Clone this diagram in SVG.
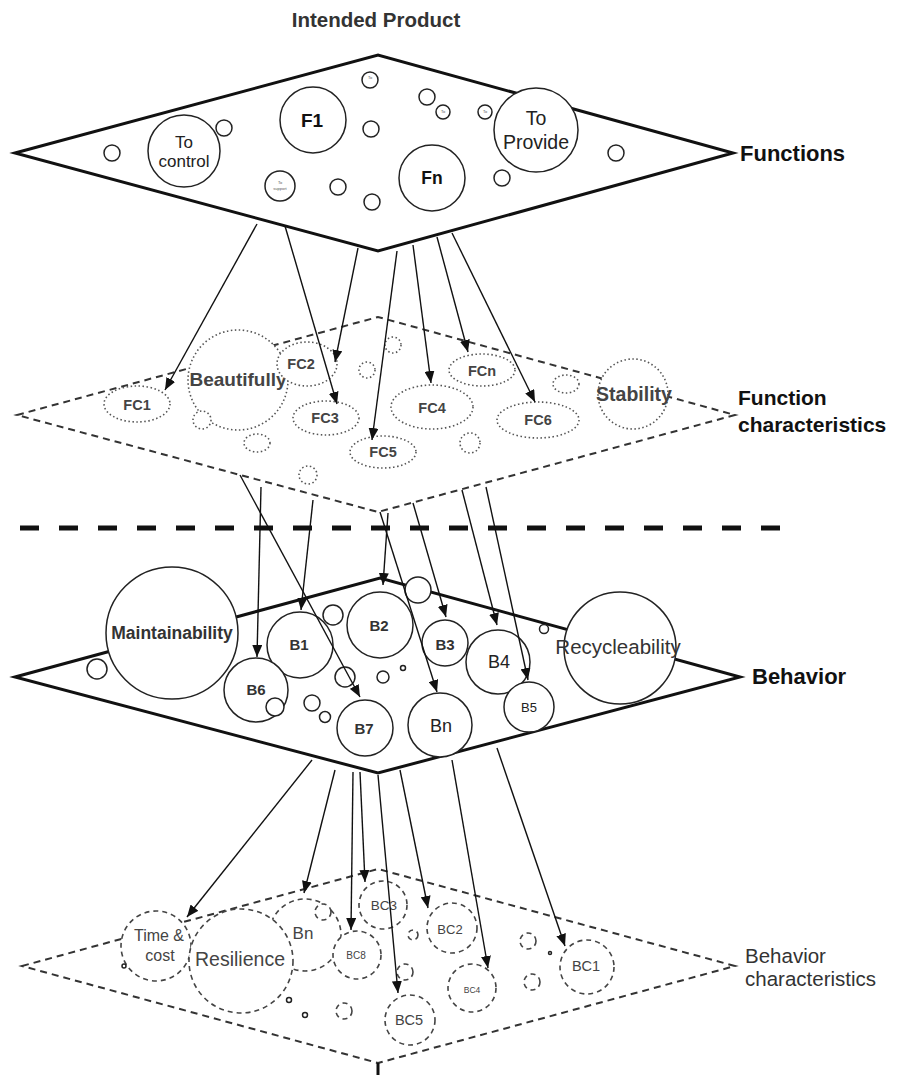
<svg xmlns="http://www.w3.org/2000/svg" width="902" height="1075" viewBox="0 0 902 1075">
<defs>
<marker id="arr" viewBox="0 0 12 10" refX="12" refY="5" markerWidth="12" markerHeight="10" markerUnits="userSpaceOnUse" orient="auto">
<path d="M0,0 L12,5 L0,10 z" fill="#111"/>
</marker>
<style>
text{font-family:"Liberation Sans",Arial,Helvetica,sans-serif;text-anchor:middle;}
.plane{fill:#fff;stroke:#111;stroke-width:3;stroke-linejoin:miter;}
.dplane{fill:#fff;stroke:#333;stroke-width:2;stroke-dasharray:7 5;}
.c{fill:#fff;stroke:#222;stroke-width:1.5;}
.dot{fill:#fff;stroke:#555;stroke-width:1.6;stroke-dasharray:1.5 2.5;}
.dc{fill:#fff;stroke:#444;stroke-width:1.6;stroke-dasharray:5 4;}
.lbl{font-weight:bold;fill:#111;}
.cn line{stroke:#111;stroke-width:1.4;marker-end:url(#arr);}
.tiny{font-size:4px;fill:#555;}
.fc{font-size:14.5px;font-weight:bold;fill:#444;}
.bb{font-size:15px;font-weight:bold;fill:#333;}
.bc{fill:#444;}
</style>
</defs>
<rect width="902" height="1075" fill="#fff"/>

<!-- planes -->
<g id="plane-functions"><polygon class="plane" points="15,153 378,55 733,153 378,251"/></g>
<g id="plane-function-characteristics"><polygon class="dplane" points="17,415 378,317 735,415 378,512"/></g>
<line x1="20" y1="528" x2="785" y2="528" stroke="#111" stroke-width="5" stroke-dasharray="19 20"/>
<g id="plane-behavior"><polygon class="plane" points="15,677 380,578 740,677 378,773"/></g>
<g id="plane-behavior-characteristics"><polygon class="dplane" points="22,966 378,869 735,966 378,1063"/></g>
<line x1="378" y1="1063" x2="378" y2="1075" stroke="#111" stroke-width="3"/>

<!-- Functions nodes -->
<g id="n-small-f1"><circle class="c" cx="112" cy="153" r="8"/></g>
<g id="n-small-f2"><circle class="c" cx="224" cy="128" r="8"/></g>
<g id="n-to-control"><circle class="c" cx="184" cy="151" r="36"/><text x="184" y="148" font-size="17" fill="#222">To</text><text x="184" y="167" font-size="17" fill="#222">control</text></g>
<g id="n-f1"><circle class="c" cx="313" cy="120" r="33"/><text x="312" y="127" font-size="19" class="lbl" fill="#222">F1</text></g>
<g id="n-tiny-1"><circle class="c" cx="370" cy="80" r="8"/><text class="tiny" x="370" y="79">To</text></g>
<g id="n-small-f3"><circle class="c" cx="371" cy="129" r="8"/></g>
<g id="n-to-support"><circle class="c" cx="280" cy="186" r="15"/><text class="tiny" x="280" y="184">To</text><text class="tiny" x="280" y="190">support</text></g>
<g id="n-small-f4"><circle class="c" cx="338" cy="187" r="8"/></g>
<g id="n-small-f5"><circle class="c" cx="372" cy="202" r="8"/></g>
<g id="n-fn"><circle class="c" cx="432" cy="178" r="33"/><text x="432" y="184" font-size="17.5" class="lbl" fill="#222">Fn</text></g>
<g id="n-small-f6"><circle class="c" cx="427" cy="97" r="8"/></g>
<g id="n-tiny-2"><circle class="c" cx="443" cy="112" r="7"/><text class="tiny" x="443" y="113">To</text></g>
<g id="n-tiny-3"><circle class="c" cx="485" cy="112" r="7"/><text class="tiny" x="485" y="113">To</text></g>
<g id="n-to-provide"><circle class="c" cx="536" cy="130" r="42"/><text x="536" y="125" font-size="19.5" fill="#222">To</text><text x="536" y="149" font-size="19.5" fill="#222">Provide</text></g>
<g id="n-small-f7"><circle class="c" cx="616" cy="153" r="8"/></g>
<g id="n-small-f8"><circle class="c" cx="502" cy="178" r="8"/></g>

<!-- Function characteristics nodes -->
<g id="n-beautifully"><circle class="dot" cx="238" cy="380" r="50"/><text x="238" y="386" font-size="19" font-weight="bold" fill="#444">Beautifully</text></g>
<g id="n-fc1"><ellipse class="dot" cx="137" cy="404" rx="33" ry="18"/><text class="fc" x="137" y="410">FC1</text></g>
<g id="n-fc-s1"><circle class="dot" cx="202" cy="420" r="9"/></g>
<g id="n-fc-s2"><ellipse class="dot" cx="257" cy="443" rx="13" ry="9"/></g>
<g id="n-fc2"><ellipse class="dot" cx="307" cy="364" rx="30" ry="22"/><text class="fc" x="301" y="369" font-size="14">FC2</text></g>
<g id="n-fc-s3"><circle class="dot" cx="393" cy="345" r="8"/></g>
<g id="n-fc-s4"><circle class="dot" cx="367" cy="370" r="8"/></g>
<g id="n-fc3"><ellipse class="dot" cx="326" cy="418" rx="33" ry="17"/><text class="fc" x="325" y="423">FC3</text></g>
<g id="n-fc5"><ellipse class="dot" cx="383" cy="452" rx="33" ry="16"/><text class="fc" x="383" y="457">FC5</text></g>
<g id="n-fc-s5"><circle class="dot" cx="308" cy="475" r="9"/></g>
<g id="n-fc4"><ellipse class="dot" cx="432" cy="407" rx="41" ry="22"/><text class="fc" x="432" y="413">FC4</text></g>
<g id="n-fc-s6"><circle class="dot" cx="470" cy="443" r="10"/></g>
<g id="n-fcn"><ellipse class="dot" cx="482" cy="370" rx="33" ry="16"/><text class="fc" x="482" y="376">FCn</text></g>
<g id="n-fc6"><ellipse class="dot" cx="538" cy="420" rx="41" ry="18"/><text class="fc" x="538" y="425">FC6</text></g>
<g id="n-fc-s7"><ellipse class="dot" cx="566" cy="384" rx="13" ry="9"/></g>
<g id="n-stability"><circle class="dot" cx="633" cy="394" r="35"/><text x="634" y="401" font-size="19.5" font-weight="bold" fill="#444">Stability</text></g>

<!-- Behavior nodes -->
<g id="n-b-s1"><circle class="c" cx="97" cy="669" r="10"/></g>
<g id="n-maintainability"><circle class="c" cx="172" cy="633" r="66"/><text x="172" y="639" font-size="17.5" font-weight="bold" fill="#333">Maintainability</text></g>
<g id="n-b1"><circle class="c" cx="300" cy="645" r="33"/><text class="bb" x="299" y="650">B1</text></g>
<g id="n-b6"><circle class="c" cx="256" cy="690" r="32"/><text class="bb" x="256" y="695">B6</text></g>
<g id="n-b-s2"><circle class="c" cx="275" cy="707" r="9"/></g>
<g id="n-b-s3"><circle class="c" cx="333" cy="615" r="10"/></g>
<g id="n-b-s4"><circle class="c" cx="345" cy="677" r="10"/></g>
<g id="n-b2"><circle class="c" cx="380" cy="625" r="33"/><text class="bb" x="379" y="631">B2</text></g>
<g id="n-b-s5"><circle class="c" cx="418" cy="590" r="13"/></g>
<g id="n-b-s6"><circle class="c" cx="383" cy="677" r="6"/></g>
<g id="n-b-s7"><circle class="c" cx="403" cy="668" r="2.5"/></g>
<g id="n-b-s8"><circle class="c" cx="312" cy="703" r="8"/></g>
<g id="n-b-s9"><circle class="c" cx="325" cy="717" r="5.5"/></g>
<g id="n-b7"><circle class="c" cx="365" cy="728" r="28"/><text class="bb" x="364" y="734">B7</text></g>
<g id="n-bn"><circle class="c" cx="440" cy="725" r="32"/><text x="441" y="732" font-size="18" fill="#222">Bn</text></g>
<g id="n-b3"><circle class="c" cx="445" cy="643" r="23"/><text class="bb" x="445" y="650">B3</text></g>
<g id="n-b4"><circle class="c" cx="498" cy="662" r="32"/><text x="499" y="668" font-size="18" fill="#222">B4</text></g>
<g id="n-b5"><circle class="c" cx="529" cy="707" r="25"/><text x="529" y="712" font-size="13" fill="#222">B5</text></g>
<g id="n-b-s10"><circle class="c" cx="544" cy="629" r="4.5"/></g>
<g id="n-recycleability"><circle class="c" cx="620" cy="648" r="56"/><text x="618" y="654" font-size="20.5" fill="#333">Recycleability</text></g>

<!-- Behavior characteristics nodes -->
<g id="n-time-cost"><circle class="dc" cx="156" cy="946" r="35"/><text class="bc" x="159" y="941" font-size="16">Time &amp;</text><text class="bc" x="160" y="961" font-size="16">cost</text></g>
<g id="n-bc-s1"><circle class="c" cx="124" cy="966" r="2"/></g>
<g id="n-bn2"><circle class="dc" cx="305" cy="935" r="36"/><text class="bc" x="303" y="939" font-size="17">Bn</text></g>
<g id="n-resilience"><circle class="dc" cx="241" cy="961" r="52"/><text class="bc" x="240" y="966" font-size="19.5">Resilience</text></g>
<g id="n-bc-s2"><circle class="dc" cx="323" cy="912" r="8"/></g>
<g id="n-bc8"><circle class="dc" cx="357" cy="955" r="24"/><text class="bc" x="356" y="959" font-size="10">BC8</text></g>
<g id="n-bc3"><circle class="dc" cx="383" cy="905" r="24"/><text class="bc" x="384" y="910" font-size="13.5">BC3</text></g>
<g id="n-bc-s3"><circle class="dc" cx="405" cy="972" r="8"/></g>
<g id="n-bc-s4"><circle class="dc" cx="413" cy="935" r="5"/></g>
<g id="n-bc-s5"><circle class="c" cx="289" cy="1000" r="2.5"/></g>
<g id="n-bc-s6"><circle class="c" cx="305" cy="1015" r="2.5"/></g>
<g id="n-bc-s7"><circle class="dc" cx="344" cy="1011" r="8"/></g>
<g id="n-bc5"><circle class="dc" cx="410" cy="1020" r="25"/><text class="bc" x="409" y="1025" font-size="14.5">BC5</text></g>
<g id="n-bc2"><circle class="dc" cx="452" cy="928" r="25"/><text class="bc" x="450" y="934" font-size="13">BC2</text></g>
<g id="n-bc4"><circle class="dc" cx="472" cy="988" r="24"/><text class="bc" x="472" y="993" font-size="8.5">BC4</text></g>
<g id="n-bc-s8"><circle class="dc" cx="528" cy="941" r="8"/></g>
<g id="n-bc-s9"><circle class="dc" cx="532" cy="982" r="8"/></g>
<g id="n-bc-s10"><circle class="c" cx="550" cy="953" r="1.5"/></g>
<g id="n-bc1"><circle class="dc" cx="587" cy="967" r="27"/><text class="bc" x="586" y="971" font-size="14.5">BC1</text></g>

<!-- connectors -->
<g id="connectors" class="cn">
<line x1="257" y1="224" x2="165" y2="390"/>
<line x1="285" y1="226" x2="337" y2="404"/>
<line x1="358" y1="248" x2="335" y2="362"/>
<line x1="397" y1="251" x2="372" y2="440"/>
<line x1="413" y1="245" x2="431" y2="383"/>
<line x1="437" y1="237" x2="468" y2="352"/>
<line x1="452" y1="233" x2="535" y2="402"/>

<line x1="240" y1="475" x2="360" y2="697"/>
<line x1="261" y1="487" x2="257" y2="657"/>
<line x1="313" y1="500" x2="301" y2="610"/>
<line x1="388" y1="513" x2="383" y2="585"/>
<line x1="380" y1="512" x2="437" y2="692"/>
<line x1="413" y1="503" x2="446" y2="617"/>
<line x1="462" y1="490" x2="497" y2="625"/>
<line x1="486" y1="487" x2="528" y2="680"/>

<line x1="312" y1="760" x2="187" y2="917"/>
<line x1="335" y1="770" x2="304" y2="893"/>
<line x1="353" y1="772" x2="351" y2="930"/>
<line x1="360" y1="772" x2="365" y2="882"/>
<line x1="378" y1="775" x2="398" y2="993"/>
<line x1="400" y1="770" x2="428" y2="908"/>
<line x1="452" y1="760" x2="488" y2="968"/>
<line x1="497" y1="748" x2="565" y2="946"/>
</g>

<!-- layer labels -->
<g id="labels">
<text x="376" y="27" font-size="20.5" font-weight="bold" fill="#333">Intended Product</text>
<text x="740" y="161" font-size="22" class="lbl" style="text-anchor:start">Functions</text>
<text x="738" y="405" font-size="21" class="lbl" style="text-anchor:start">Function</text>
<text x="738" y="432" font-size="21" class="lbl" style="text-anchor:start">characteristics</text>
<text x="752" y="684" font-size="22" class="lbl" style="text-anchor:start">Behavior</text>
<text x="745" y="963" font-size="20.5" fill="#333" style="text-anchor:start">Behavior</text>
<text x="745" y="986" font-size="20.5" fill="#333" style="text-anchor:start">characteristics</text>
</g>
</svg>
